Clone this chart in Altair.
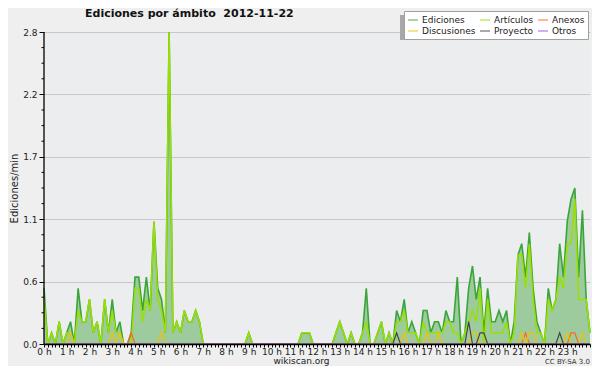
import altair as alt
import pandas as pd

# 10-minute bins, 0h .. 24h (145 points), values in edits/min
ediciones = [
    0.5, 0.0, 0.1, 0.0, 0.2, 0.0,   # 0h
    0.1, 0.2, 0.0, 0.5, 0.2, 0.2,   # 1h
    0.4, 0.1, 0.2, 0.0, 0.4, 0.1,   # 2h
    0.4, 0.1, 0.2, 0.0, 0.0, 0.1,   # 3h
    0.6, 0.6, 0.3, 0.6, 0.3, 1.1,   # 4h
    0.5, 0.4, 0.1, 2.8, 0.1, 0.2,   # 5h
    0.1, 0.3, 0.2, 0.2, 0.3, 0.2,   # 6h
    0.0, 0.0, 0.0, 0.0, 0.0, 0.0,   # 7h
    0.0, 0.0, 0.0, 0.0, 0.0, 0.0,   # 8h
    0.1, 0.0, 0.0, 0.0, 0.0, 0.0,   # 9h
    0.0, 0.0, 0.0, 0.0, 0.0, 0.0,   # 10h
    0.0, 0.0, 0.1, 0.1, 0.1, 0.0,   # 11h
    0.0, 0.0, 0.0, 0.0, 0.0, 0.1,   # 12h
    0.2, 0.1, 0.0, 0.1, 0.0, 0.0,   # 13h
    0.1, 0.5, 0.0, 0.0, 0.1, 0.2,   # 14h
    0.0, 0.1, 0.0, 0.3, 0.2, 0.4,   # 15h
    0.1, 0.2, 0.1, 0.0, 0.3, 0.3,   # 16h
    0.1, 0.2, 0.2, 0.1, 0.3, 0.2,   # 17h
    0.2, 0.6, 0.0, 0.1, 0.5, 0.7,   # 18h
    0.4, 0.6, 0.1, 0.5, 0.2, 0.2,   # 19h
    0.3, 0.2, 0.3, 0.0, 0.2, 0.8,   # 20h
    0.9, 0.6, 1.0, 0.5, 0.2, 0.1,   # 21h
    0.0, 0.5, 0.3, 0.4, 0.9, 0.6,   # 22h
    1.1, 1.3, 1.4, 0.6, 1.2, 0.4,   # 23h
    0.1,
]
articulos = [
    0.4, 0.0, 0.1, 0.0, 0.2, 0.0,
    0.1, 0.1, 0.0, 0.3, 0.2, 0.2,
    0.4, 0.1, 0.2, 0.0, 0.4, 0.1,
    0.3, 0.1, 0.1, 0.0, 0.0, 0.0,
    0.5, 0.5, 0.2, 0.4, 0.3, 1.1,
    0.4, 0.3, 0.1, 2.8, 0.1, 0.2,
    0.1, 0.3, 0.2, 0.2, 0.3, 0.2,
    0.0, 0.0, 0.0, 0.0, 0.0, 0.0,
    0.0, 0.0, 0.0, 0.0, 0.0, 0.0,
    0.1, 0.0, 0.0, 0.0, 0.0, 0.0,
    0.0, 0.0, 0.0, 0.0, 0.0, 0.0,
    0.0, 0.0, 0.1, 0.1, 0.1, 0.0,
    0.0, 0.0, 0.0, 0.0, 0.0, 0.1,
    0.2, 0.1, 0.0, 0.1, 0.0, 0.0,
    0.1, 0.2, 0.0, 0.0, 0.1, 0.2,
    0.0, 0.1, 0.0, 0.2, 0.2, 0.3,
    0.1, 0.1, 0.1, 0.0, 0.2, 0.1,
    0.1, 0.1, 0.1, 0.1, 0.2, 0.2,
    0.1, 0.1, 0.0, 0.1, 0.2, 0.3,
    0.2, 0.5, 0.0, 0.4, 0.1, 0.1,
    0.1, 0.1, 0.2, 0.0, 0.1, 0.8,
    0.8, 0.5, 0.9, 0.4, 0.1, 0.1,
    0.0, 0.4, 0.3, 0.4, 0.6, 0.5,
    0.9, 0.9, 1.3, 0.4, 0.4, 0.4,
    0.1,
]
discusiones = [
    0.0, 0.0, 0.0, 0.0, 0.0, 0.0,
    0.0, 0.1, 0.0, 0.0, 0.0, 0.0,
    0.0, 0.0, 0.0, 0.0, 0.0, 0.0,
    0.1, 0.0, 0.1, 0.0, 0.0, 0.0,
    0.0, 0.0, 0.0, 0.0, 0.0, 0.0,
    0.0, 0.1, 0.0, 0.0, 0.0, 0.0,
    0.0, 0.0, 0.0, 0.0, 0.0, 0.0,
    0.0, 0.0, 0.0, 0.0, 0.0, 0.0,
    0.0, 0.0, 0.0, 0.0, 0.0, 0.0,
    0.0, 0.0, 0.0, 0.0, 0.0, 0.0,
    0.0, 0.0, 0.0, 0.0, 0.0, 0.0,
    0.0, 0.0, 0.0, 0.0, 0.0, 0.0,
    0.0, 0.0, 0.0, 0.0, 0.0, 0.0,
    0.0, 0.0, 0.0, 0.0, 0.0, 0.0,
    0.0, 0.0, 0.0, 0.0, 0.0, 0.0,
    0.0, 0.0, 0.0, 0.0, 0.0, 0.1,
    0.0, 0.0, 0.0, 0.0, 0.0, 0.1,
    0.0, 0.0, 0.1, 0.0, 0.0, 0.0,
    0.0, 0.0, 0.0, 0.0, 0.0, 0.1,
    0.1, 0.0, 0.0, 0.0, 0.0, 0.0,
    0.0, 0.0, 0.0, 0.0, 0.0, 0.0,
    0.1, 0.0, 0.1, 0.1, 0.0, 0.0,
    0.0, 0.0, 0.0, 0.0, 0.0, 0.0,
    0.1, 0.0, 0.0, 0.0, 0.1, 0.0,
    0.0,
]
anexos = [
    0.0, 0.0, 0.0, 0.0, 0.0, 0.0,
    0.0, 0.0, 0.0, 0.0, 0.0, 0.0,
    0.0, 0.0, 0.0, 0.0, 0.0, 0.0,
    0.0, 0.0, 0.0, 0.0, 0.0, 0.1,
    0.0, 0.0, 0.0, 0.0, 0.0, 0.0,
    0.0, 0.0, 0.0, 0.0, 0.0, 0.0,
    0.0, 0.0, 0.0, 0.0, 0.0, 0.0,
    0.0, 0.0, 0.0, 0.0, 0.0, 0.0,
    0.0, 0.0, 0.0, 0.0, 0.0, 0.0,
    0.0, 0.0, 0.0, 0.0, 0.0, 0.0,
    0.0, 0.0, 0.0, 0.0, 0.0, 0.0,
    0.0, 0.0, 0.0, 0.0, 0.0, 0.0,
    0.0, 0.0, 0.0, 0.0, 0.0, 0.0,
    0.0, 0.0, 0.0, 0.0, 0.0, 0.0,
    0.0, 0.0, 0.0, 0.0, 0.0, 0.0,
    0.0, 0.0, 0.0, 0.0, 0.0, 0.0,
    0.0, 0.0, 0.0, 0.0, 0.0, 0.0,
    0.0, 0.0, 0.0, 0.0, 0.0, 0.0,
    0.0, 0.0, 0.0, 0.0, 0.0, 0.0,
    0.0, 0.0, 0.0, 0.0, 0.0, 0.0,
    0.0, 0.0, 0.0, 0.0, 0.0, 0.0,
    0.0, 0.1, 0.0, 0.0, 0.0, 0.0,
    0.0, 0.0, 0.0, 0.0, 0.0, 0.0,
    0.0, 0.1, 0.1, 0.0, 0.0, 0.0,
    0.0,
]
proyecto = [
    0.0, 0.0, 0.0, 0.0, 0.0, 0.0,
    0.0, 0.0, 0.0, 0.0, 0.0, 0.0,
    0.0, 0.0, 0.0, 0.0, 0.0, 0.0,
    0.0, 0.0, 0.0, 0.0, 0.0, 0.0,
    0.0, 0.0, 0.0, 0.0, 0.0, 0.0,
    0.0, 0.0, 0.0, 0.0, 0.0, 0.0,
    0.0, 0.0, 0.0, 0.0, 0.0, 0.0,
    0.0, 0.0, 0.0, 0.0, 0.0, 0.0,
    0.0, 0.0, 0.0, 0.0, 0.0, 0.0,
    0.0, 0.0, 0.0, 0.0, 0.0, 0.0,
    0.0, 0.0, 0.0, 0.0, 0.0, 0.0,
    0.0, 0.0, 0.0, 0.0, 0.0, 0.0,
    0.0, 0.0, 0.0, 0.0, 0.0, 0.0,
    0.0, 0.0, 0.0, 0.0, 0.0, 0.0,
    0.0, 0.0, 0.0, 0.0, 0.0, 0.0,
    0.0, 0.0, 0.0, 0.1, 0.0, 0.0,
    0.0, 0.0, 0.0, 0.0, 0.0, 0.0,
    0.0, 0.0, 0.0, 0.0, 0.0, 0.0,
    0.0, 0.0, 0.0, 0.0, 0.2, 0.0,
    0.0, 0.1, 0.1, 0.0, 0.0, 0.0,
    0.0, 0.0, 0.0, 0.0, 0.0, 0.0,
    0.0, 0.0, 0.0, 0.0, 0.0, 0.0,
    0.0, 0.0, 0.0, 0.0, 0.1, 0.0,
    0.0, 0.0, 0.0, 0.0, 0.0, 0.0,
    0.0,
]
otros = [
    0.0, 0.0, 0.0, 0.0, 0.0, 0.0, 0.0, 0.0, 0.0, 0.0, 0.0, 0.0,
    0.0, 0.0, 0.0, 0.0, 0.0, 0.0, 0.0, 0.0, 0.0, 0.0, 0.0, 0.0,
    0.0, 0.0, 0.0, 0.0, 0.0, 0.0, 0.0, 0.0, 0.0, 0.0, 0.0, 0.0,
    0.0, 0.0, 0.0, 0.0, 0.0, 0.0, 0.0, 0.0, 0.0, 0.0, 0.0, 0.0,
    0.0, 0.0, 0.0, 0.0, 0.0, 0.0, 0.0, 0.0, 0.0, 0.0, 0.0, 0.0,
    0.0, 0.0, 0.0, 0.0, 0.0, 0.0, 0.0, 0.0, 0.0, 0.0, 0.0, 0.0,
    0.0, 0.0, 0.0, 0.0, 0.0, 0.0, 0.0, 0.0, 0.0, 0.0, 0.0, 0.0,
    0.0, 0.0, 0.0, 0.0, 0.0, 0.0, 0.0, 0.0, 0.0, 0.0, 0.0, 0.0,
    0.0, 0.0, 0.0, 0.0, 0.0, 0.0, 0.0, 0.0, 0.0, 0.0, 0.0, 0.0,
    0.0, 0.0, 0.0, 0.0, 0.0, 0.0, 0.0, 0.0, 0.0, 0.0, 0.0, 0.0,
    0.0, 0.0, 0.0, 0.0, 0.0, 0.0, 0.0, 0.0, 0.0, 0.0, 0.0, 0.0,
    0.0, 0.0, 0.0, 0.0, 0.0, 0.0, 0.0, 0.0, 0.0, 0.0, 0.0, 0.0,
    0.0,
]

series_names = ["Ediciones", "Artículos", "Anexos", "Discusiones", "Proyecto", "Otros"]
series_colors = ["#3aa53a", "#99e000", "#ff6420", "#f2c200", "#444444", "#9a4ef0"]
series_values = [ediciones, articulos, anexos, discusiones, proyecto, otros]

title_text = "Ediciones por ámbito\u00a0 2012-11-22"
y_title = "Ediciones/min"
footer_site = "wikiscan.org"
footer_license = "CC BY-SA 3.0"

y_major = [0.0, 0.56, 1.12, 1.68, 2.24, 2.8]
y_minor = [0.14, 0.28, 0.42, 0.70, 0.84, 0.98, 1.26, 1.40, 1.54,
           1.82, 1.96, 2.10, 2.38, 2.52, 2.66]
x_ticks = list(range(0, 1441, 10))   # minutes

rows = []
for name, vals in zip(series_names, series_values):
    for i, v in enumerate(vals):
        rows.append({"t": i * 10, "v": v, "serie": name})
df = pd.DataFrame(rows)

W, H = 546, 312
FONT = "DejaVu Sans"

X = alt.X(
    "t:Q",
    scale=alt.Scale(domain=[0, 1440], nice=False, zero=False),
    axis=alt.Axis(
        values=x_ticks,
        labelExpr="datum.value % 60 == 0 && datum.value < 1440 ? (datum.value / 60) + ' h' : ''",
        labelOverlap=False,
        labelFlush=False,
        labelFontSize=9,
        labelFont=FONT,
        labelColor="#222222",
        labelPadding=0,
        tickSize=3,
        tickColor="black",
        domainColor="black",
        domainWidth=1.3,
        grid=False,
        title=footer_site,
        titleFont=FONT,
        titleFontSize=9,
        titleFontWeight="normal",
        titleColor="#222222",
        titleX=257,
        titleY=19,
        titleAlign="center",
        titleBaseline="alphabetic",
        zindex=1,
    ),
)
Y = alt.Y(
    "v:Q",
    scale=alt.Scale(domain=[0, 2.8], nice=False, zero=True),
    axis=alt.Axis(
        values=y_major,
        format=".1f",
        labelFontSize=9,
        labelFont=FONT,
        labelColor="#222222",
        labelPadding=2,
        tickSize=5,
        tickColor="black",
        domain=False,
        grid=True,
        gridColor="#c8c8c8",
        gridWidth=1,
        title=y_title,
        titleFont=FONT,
        titleFontSize=10,
        titleFontWeight="normal",
        titleColor="#222222",
        titleX=-30,
        titleY=156,
        titleAngle=270,
        titleAlign="center",
        titleBaseline="middle",
    ),
)
COLOR = alt.Color(
    "serie:N",
    scale=alt.Scale(domain=series_names, range=series_colors),
    legend=alt.Legend(
        title=None,
        orient="none",
        legendX=360,
        legendY=-21,
        columns=3,
        direction="horizontal",
        gridAlign="each",
        symbolType="stroke",
        symbolSize=100,
        symbolStrokeWidth=1.3,
        symbolOpacity=0.7,
        labelFont=FONT,
        labelFontSize=9,
        labelColor="#222222",
        labelOffset=3,
        columnPadding=1,
        rowPadding=0,
        padding=3,
        fillColor="white",
        strokeColor="#a0a0a0",
    ),
)

shadow = alt.Chart(pd.DataFrame({"v": [0]})).mark_rect(color="#a8a8a8").encode(
    x=alt.value(356), x2=alt.value(538), y=alt.value(-17), y2=alt.value(8)
)

area = (
    alt.Chart(df)
    .transform_filter(alt.datum.serie == "Ediciones")
    .mark_area(color="#9ecb9e", opacity=1)
    .encode(x=X, y=Y)
)

widths = {"Ediciones": 1.6, "Artículos": 1.5}
lines = []
for name in series_names:
    lines.append(
        alt.Chart(df)
        .transform_filter(alt.datum.serie == name)
        .mark_line(strokeWidth=widths.get(name, 1.2))
        .encode(x=X, y=Y, color=COLOR)
    )

minor = alt.Chart(pd.DataFrame({"v": y_minor})).mark_rule(color="black").encode(
    y=Y, x=alt.value(-2.5), x2=alt.value(0)
)
ydomain = alt.Chart(pd.DataFrame({"v": [0]})).mark_rule(color="black", strokeWidth=1.3).encode(
    x=alt.value(0), y=alt.value(0), y2=alt.value(H)
)
title = alt.Chart(pd.DataFrame({"txt": [title_text]})).mark_text(
    align="left", baseline="alphabetic", fontSize=11, fontWeight="bold",
    font=FONT, color="#111111"
).encode(text="txt:N", x=alt.value(41), y=alt.value(-15))
cc = alt.Chart(pd.DataFrame({"txt": [footer_license]})).mark_text(
    align="right", baseline="alphabetic", fontSize=7, font=FONT, color="#333333"
).encode(text="txt:N", x=alt.value(546), y=alt.value(332))

chart = (
    alt.layer(shadow, area, *lines, minor, ydomain, title, cc)
    .properties(
        width=W,
        height=H,
        autosize=alt.AutoSizeParams(type="none"),
        padding={"left": 36, "top": 24, "right": 2, "bottom": 22},
        background="#efefef",
    )
    .configure_view(fill="#ecedef", strokeWidth=0)
)

chart.save("out.html", embed_options={"renderer": "svg", "actions": False})
